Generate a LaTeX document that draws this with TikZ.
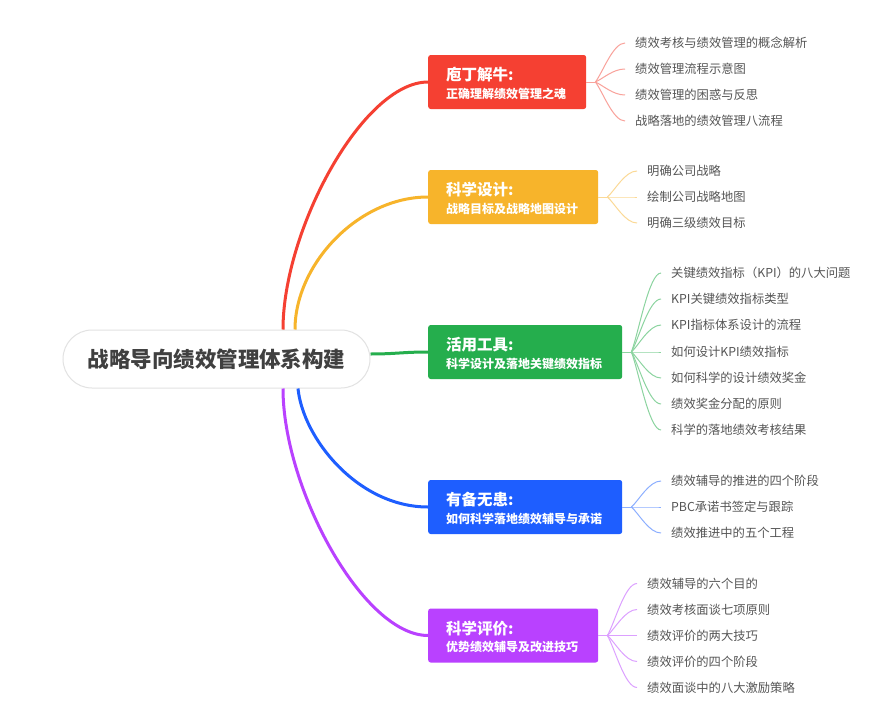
\documentclass[tikz,border=0pt]{standalone}
\usepackage{fontspec}
\usepackage{tikz}
\usetikzlibrary{calc}
\newfontfamily\cjk{Noto Sans CJK SC}

\begin{document}
\begin{tikzpicture}[x=1pt, y=-1pt,
    root/.style={draw=rootborder, line width=1pt, fill=white, rounded corners=29pt, minimum width=307pt, minimum height=58pt, text=roottext, font=\cjk\bfseries\fontsize{21.5}{24}\selectfont},
    branch/.style={rounded corners=2.5pt, minimum height=54pt, anchor=west},
    title/.style={anchor=west, inner sep=0pt, text=white, font=\cjk\bfseries\fontsize{15.5}{18}\selectfont},
    subtitle/.style={anchor=west, inner sep=0pt, text=white, font=\cjk\bfseries\fontsize{12}{14}\selectfont},
    leaf/.style={anchor=west, inner xsep=10pt, inner ysep=0pt, text=leaftext, font=\cjk\fontsize{12.3}{14}\selectfont},
    limb/.style={line width=3pt},
    twig/.style={line width=1pt}]
    % Define colors
    \definecolor{roottext}{RGB}{64,64,64}
    \definecolor{rootborder}{RGB}{226,226,226}
    \definecolor{leaftext}{RGB}{85,85,85}
    \definecolor{redmain}{RGB}{245,64,50}
    \definecolor{redlight}{RGB}{249,162,155}
    \definecolor{yellowmain}{RGB}{247,180,43}
    \definecolor{yellowlight}{RGB}{251,217,150}
    \definecolor{greenmain}{RGB}{37,174,77}
    \definecolor{greenlight}{RGB}{140,212,160}
    \definecolor{bluemain}{RGB}{30,94,255}
    \definecolor{bluelight}{RGB}{140,175,255}
    \definecolor{purplemain}{RGB}{185,65,255}
    \definecolor{purplelight}{RGB}{220,160,255}

    % Canvas
    \useasboundingbox (0,0) rectangle (879,707);
    \fill[white] (0,0) rectangle (879,707);

    % Central topic
    \node[root] (root) at (216.5,359) {战略导向绩效管理体系构建};

    % Main topics
    \node[branch, fill=redmain, minimum width=158pt] (b1) at (428,82) {};
    \node[title] (t1) at ($(b1.west)+(18,-7)$) {庖丁解牛:};
    \node[subtitle] (s1) at ($(b1.west)+(18,11.5)$) {正确理解绩效管理之魂};

    \node[branch, fill=yellowmain, minimum width=170pt] (b2) at (428,197) {};
    \node[title] (t2) at ($(b2.west)+(18,-7)$) {科学设计:};
    \node[subtitle] (s2) at ($(b2.west)+(18,11.5)$) {战略目标及战略地图设计};

    \node[branch, fill=greenmain, minimum width=194pt] (b3) at (428,352) {};
    \node[title] (t3) at ($(b3.west)+(18,-7)$) {活用工具:};
    \node[subtitle] (s3) at ($(b3.west)+(18,11.5)$) {科学设计及落地关键绩效指标};

    \node[branch, fill=bluemain, minimum width=194pt] (b4) at (428,507) {};
    \node[title] (t4) at ($(b4.west)+(18,-7)$) {有备无患:};
    \node[subtitle] (s4) at ($(b4.west)+(18,11.5)$) {如何科学落地绩效辅导与承诺};

    \node[branch, fill=purplemain, minimum width=170pt] (b5) at (428,635.5) {};
    \node[title] (t5) at ($(b5.west)+(18,-7)$) {科学评价:};
    \node[subtitle] (s5) at ($(b5.west)+(18,11.5)$) {优势绩效辅导及改进技巧};

    % Branches from the central topic
    \draw[limb, redmain] ($(root.north)+(66.5,0)$) .. controls +(0,-100) and +(-65,0) .. (b1.west);
    \draw[limb, yellowmain] ($(root.north)+(78.5,0)$) .. controls +(0,-65) and +(-70,0) .. (b2.west);
    \draw[limb, greenmain] ($(root.east)+(0,-5)$) .. controls +(25,0) and +(-25,0) .. (b3.west);
    \draw[limb, bluemain] ($(root.south)+(81.5,0)$) .. controls +(5,50) and +(-70,0) .. (b4.west);
    \draw[limb, purplemain] ($(root.south)+(66.5,0)$) .. controls +(0,100) and +(-65,0) .. (b5.west);

    % Subtopics of the first branch
    \coordinate (f1) at ($(b1.east)+(9,0)$);
    \draw[twig, redlight] (b1.east) -- (f1);
    \foreach \y/\t [count=\i] in {43/绩效考核与绩效管理的概念解析, 69/绩效管理流程示意图, 95/绩效管理的困惑与反思, 121/战略落地的绩效管理八流程} {
        \node[leaf] (l1\i) at (625,\y) {\t};
        \draw[twig, redlight] (f1) .. controls ($(f1)!0.25!(l1\i.west)$) and +(-12,0) .. (l1\i.west);
    }

    % Subtopics of the second branch
    \coordinate (f2) at ($(b2.east)+(9,0)$);
    \draw[twig, yellowlight] (b2.east) -- (f2);
    \foreach \y/\t [count=\i] in {171/明确公司战略, 197/绘制公司战略地图, 223/明确三级绩效目标} {
        \node[leaf] (l2\i) at (637,\y) {\t};
        \draw[twig, yellowlight] (f2) .. controls ($(f2)!0.25!(l2\i.west)$) and +(-12,0) .. (l2\i.west);
    }

    % Subtopics of the third branch
    \coordinate (f3) at ($(b3.east)+(9,0)$);
    \draw[twig, greenlight] (b3.east) -- (f3);
    \foreach \y/\t [count=\i] in {273/关键绩效指标（KPI）的八大问题, 299/KPI关键绩效指标类型, 325/KPI指标体系设计的流程, 352/如何设计KPI绩效指标, 378/如何科学的设计绩效奖金, 404/绩效奖金分配的原则, 430/科学的落地绩效考核结果} {
        \node[leaf] (l3\i) at (661,\y) {\t};
        \draw[twig, greenlight] (f3) .. controls ($(f3)!0.25!(l3\i.west)$) and +(-12,0) .. (l3\i.west);
    }

    % Subtopics of the fourth branch
    \coordinate (f4) at ($(b4.east)+(9,0)$);
    \draw[twig, bluelight] (b4.east) -- (f4);
    \foreach \y/\t [count=\i] in {481/绩效辅导的推进的四个阶段, 507/PBC承诺书签定与跟踪, 533/绩效推进中的五个工程} {
        \node[leaf] (l4\i) at (661,\y) {\t};
        \draw[twig, bluelight] (f4) .. controls ($(f4)!0.25!(l4\i.west)$) and +(-12,0) .. (l4\i.west);
    }

    % Subtopics of the fifth branch
    \coordinate (f5) at ($(b5.east)+(9,0)$);
    \draw[twig, purplelight] (b5.east) -- (f5);
    \foreach \y/\t [count=\i] in {583.5/绩效辅导的六个目的, 609.5/绩效考核面谈七项原则, 635.5/绩效评价的两大技巧, 661.5/绩效评价的四个阶段, 687.5/绩效面谈中的八大激励策略} {
        \node[leaf] (l5\i) at (637,\y) {\t};
        \draw[twig, purplelight] (f5) .. controls ($(f5)!0.25!(l5\i.west)$) and +(-12,0) .. (l5\i.west);
    }
\end{tikzpicture}
\end{document}
